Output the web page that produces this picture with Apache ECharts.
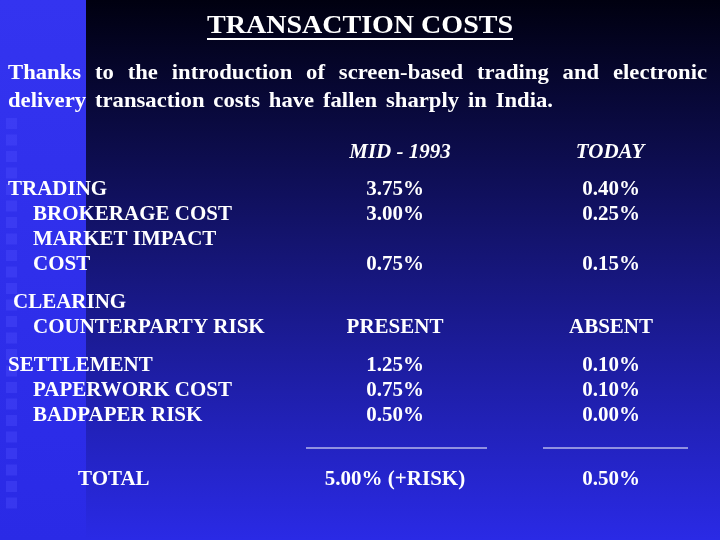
<!DOCTYPE html>
<html>
<head>
<meta charset="utf-8">
<script src="https://cdn.jsdelivr.net/npm/echarts@6/dist/echarts.min.js"></script>
<style>html,body{margin:0;padding:0;background:#000;}#main{width:720px;height:540px;}</style>
</head>
<body>
<div id="main"></div>
<script>
var title = 'TRANSACTION COSTS';
var introLines = [
    'Thanks to the introduction of screen-based trading and electronic',
    'delivery transaction costs have fallen sharply in India.'
];
var columnHeads = ['MID - 1993', 'TODAY'];
var rowLabels = ['TRADING', 'BROKERAGE COST', 'MARKET IMPACT', 'COST', 'CLEARING', 'COUNTERPARTY RISK', 'SETTLEMENT', 'PAPERWORK COST', 'BADPAPER RISK', 'TOTAL'];
var rowIndent = [0, 1, 1, 1, 0.2, 1, 0, 1, 1, 2.8];
var midValues = ['3.75%', '3.00%', '', '0.75%', '', 'PRESENT', '1.25%', '0.75%', '0.50%', '5.00% (+RISK)'];
var todayValues = ['0.40%', '0.25%', '', '0.15%', '', 'ABSENT', '0.10%', '0.10%', '0.00%', '0.50%'];
var rowY = [190, 215, 240, 265, 303, 328, 366, 391, 416, 480];

var font = 'bold 20px "Liberation Serif"';
var introFont = 'bold 21px "Liberation Serif"';
var sx = 1.05;
var chart = echarts.init(document.getElementById('main'));
var g = [];
var ctx = document.createElement('canvas').getContext('2d');

// background
g.push({type: 'rect', shape: {x: 0, y: 0, width: 720, height: 540}, style: {fill: new echarts.graphic.LinearGradient(0, 0, 0, 1, [
    {offset: 0, color: '#000010'}, {offset: 0.45, color: '#141470'}, {offset: 1, color: '#2a2ae6'}])}});
g.push({type: 'rect', shape: {x: 0, y: 0, width: 86, height: 540}, style: {fill: new echarts.graphic.LinearGradient(0, 0, 0, 1, [
    {offset: 0, color: '#3434f0'}, {offset: 1, color: '#2a2ae6'}])}});
for (var i = 0; i < 24; i++) {
    g.push({type: 'rect', shape: {x: 6, y: 118 + i * 16.5, width: 11, height: 11}, style: {fill: 'rgba(80,80,255,0.35)'}});
}

function txt(s, x, y, f, align, scale) {
    g.push({type: 'text', x: x, y: y, scaleX: scale || sx, style: {text: s, font: f || font, fill: '#fff', align: align || 'left', verticalAlign: 'middle'}});
}

// title, stretched to the reference width
ctx.font = 'bold 26px "Liberation Serif"';
var tw = ctx.measureText(title).width;
g.push({type: 'text', x: 207, y: 26, scaleX: 306 / tw, style: {text: title, font: 'bold 26px "Liberation Serif"', fill: '#fff', verticalAlign: 'middle'}});
g.push({type: 'line', shape: {x1: 207, y1: 39, x2: 513, y2: 39}, style: {stroke: '#fff', lineWidth: 2}});

// intro paragraph, words spread to the reference line widths
ctx.font = introFont;
var isx = 1.08;
function spread(line, y, x0, x1) {
    var words = line.split(' ');
    var total = 0;
    words.forEach(function (w) { total += ctx.measureText(w).width * isx; });
    var gap = (x1 - x0 - total) / (words.length - 1);
    var px = x0;
    words.forEach(function (w) {
        txt(w, px, y, introFont, 'left', isx);
        px += ctx.measureText(w).width * isx + gap;
    });
}
spread(introLines[0], 74, 8, 707);
spread(introLines[1], 102, 8, 553);

// column heads
txt(columnHeads[0], 400, 153, 'italic bold 20px "Liberation Serif"', 'center');
txt(columnHeads[1], 610, 153, 'italic bold 20px "Liberation Serif"', 'center');

rowLabels.forEach(function (lab, k) {
    txt(lab, 8 + rowIndent[k] * 25, rowY[k]);
    txt(midValues[k], 395, rowY[k], font, 'center');
    txt(todayValues[k], 611, rowY[k], font, 'center');
});

g.push({type: 'line', shape: {x1: 306, y1: 448, x2: 487, y2: 448}, style: {stroke: '#fff', lineWidth: 1}});
g.push({type: 'line', shape: {x1: 543, y1: 448, x2: 688, y2: 448}, style: {stroke: '#fff', lineWidth: 1}});

chart.setOption({animation: false, graphic: g});
</script>
</body>
</html>
